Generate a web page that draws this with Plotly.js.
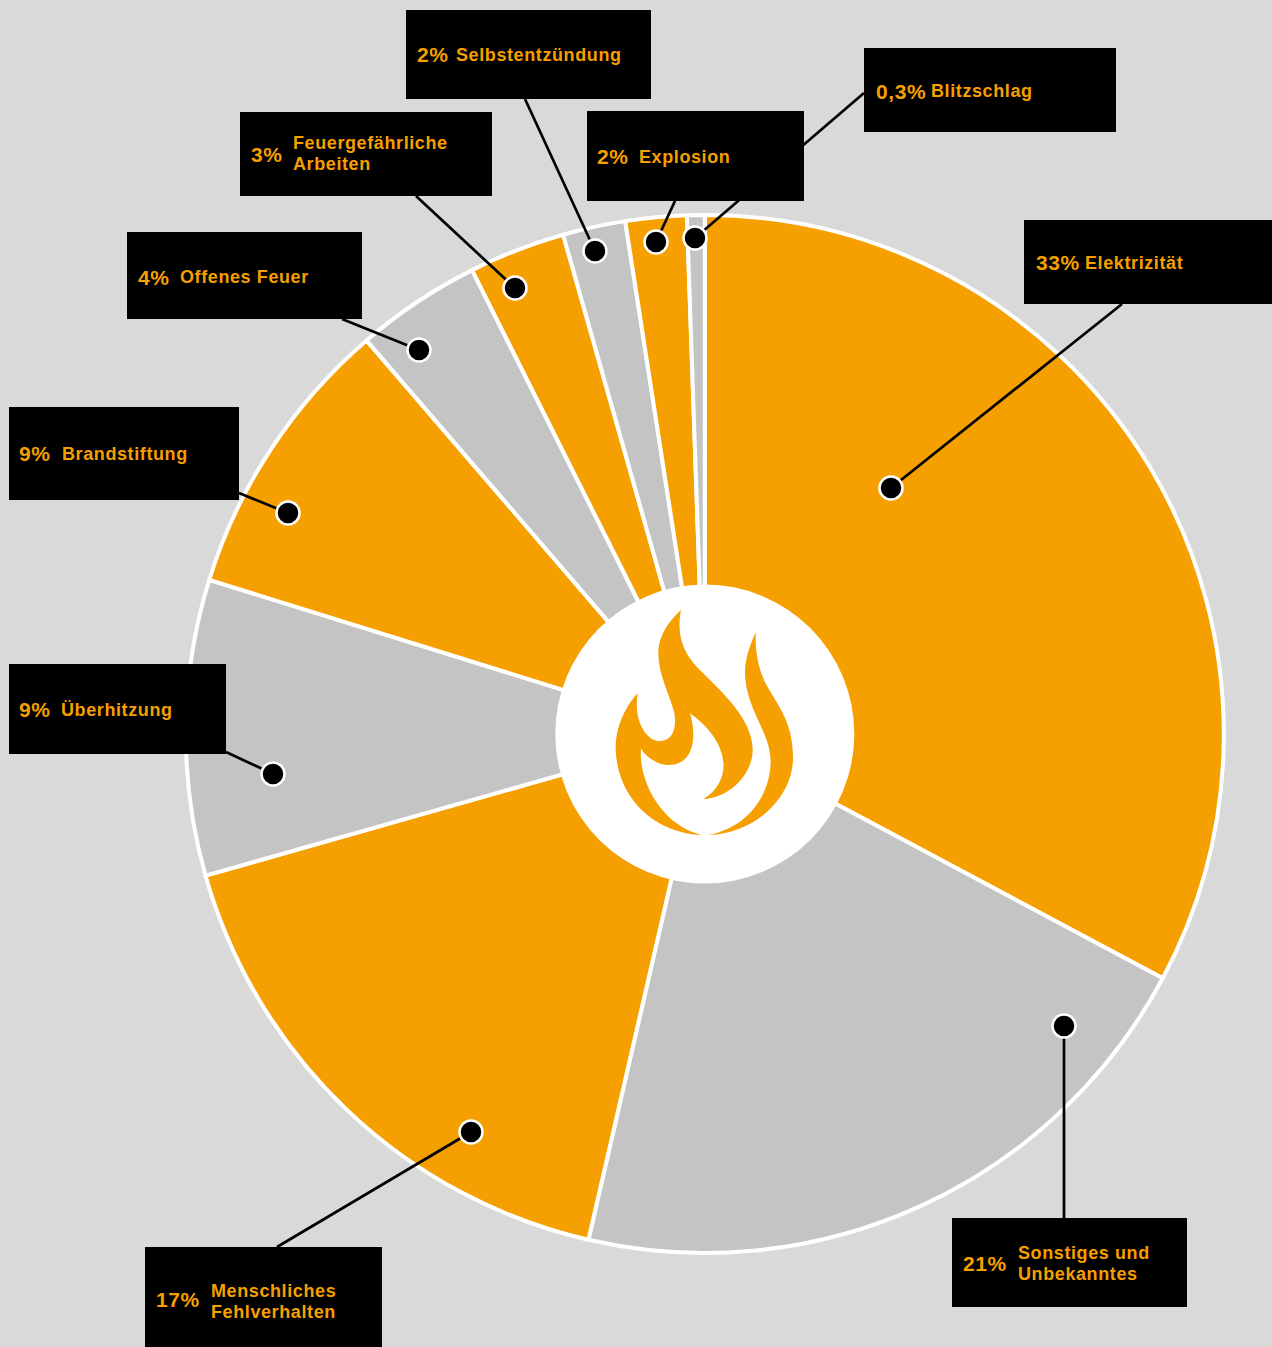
<!DOCTYPE html>
<html><head><meta charset="utf-8">
<script src="https://cdn.plot.ly/plotly-3.0.1.min.js"></script>
<style>html,body{margin:0;padding:0;background:#d9d9d9;overflow:hidden}
.annotation text{letter-spacing:.6px}</style></head>
<body><div id="chart" style="width:1272px;height:1347px"></div>
<script>
// Reading values
var categories = ["Elektrizität","Sonstiges und<br>Unbekanntes","Menschliches<br>Fehlverhalten","Überhitzung","Brandstiftung","Offenes Feuer","Feuergefährliche<br>Arbeiten","Selbstentzündung","Explosion","Blitzschlag"];
var percentLabels = ["33%","21%","17%","9%","9%","4%","3%","2%","2%","0,3%"];
var values = [32.8,20.8,17,9.2,8.9,3.9,3,1.95,1.9,0.55];
var sliceColors = ["#f69f00","#c4c4c4","#f69f00","#c4c4c4","#f69f00","#c4c4c4","#f69f00","#c4c4c4","#f69f00","#c4c4c4"];

// Callout layout (pixels)
var boxes = [[1024,220,1272,304],[952,1218,1187,1307],[145,1247,382,1347],[9,664,226,754],[9,407,239,500],[127,232,362,319],[240,112,492,196],[406,10,651,99],[587,111,804,201],[864,48,1116,132]];
var dots = [[891,488],[1064,1026],[471,1132],[273,774],[288,513],[419,350],[515,288],[595,251],[656,242],[695,238]];
var anchors = [[1122,304],[1064,1218],[277,1247],[226,752],[239,493],[342,319],[416,196],[525,99],[675,201],[864,93]];
var pctX = [1036,963,156,19,19,138,251,417,597,876];
var labelX = [1085,1018,211,61,62,180,293,456,639,931];
var textY = [263,1263.5,1301.5,710,454,277,154,55,157,91];
var pctY = [263,1263,1299,709.5,453.5,277,154,55,157,91];

var W=1272,H=1347,CX=704.8,CY=734,R=519,HOLE=149.5;
function px(x){return x/W} function py(y){return 1-y/H}
var ORANGE="#f69f00";
var shapes=[],ann=[];
function font(s){return {family:"Liberation Sans, Arial, sans-serif",size:s,color:ORANGE}}
function txt(x,y,t,s){ann.push({xref:"paper",yref:"paper",x:px(x),y:py(y),xanchor:"left",yanchor:"middle",text:"<b>"+t+"</b>",showarrow:false,font:font(s),align:"left",borderpad:0,borderwidth:0})}

categories.forEach(function(c,i){
  shapes.push({type:"line",xref:"paper",yref:"paper",x0:px(anchors[i][0]),y0:py(anchors[i][1]),x1:px(dots[i][0]),y1:py(dots[i][1]),line:{color:"#000",width:2.7}});
});
boxes.forEach(function(b){
  shapes.push({type:"rect",xref:"paper",yref:"paper",x0:px(b[0]),y0:py(b[1]),x1:px(b[2]),y1:py(b[3]),fillcolor:"#000",line:{width:0}});
});
dots.forEach(function(d){
  var r=11.5;
  shapes.push({type:"circle",xref:"paper",yref:"paper",x0:px(d[0]-r),y0:py(d[1]-r),x1:px(d[0]+r),y1:py(d[1]+r),fillcolor:"#000",line:{color:"#fff",width:2.5}});
});
shapes.push({type:"circle",xref:"paper",yref:"paper",x0:px(CX-HOLE),y0:py(CY-HOLE),x1:px(CX+HOLE),y1:py(CY+HOLE),fillcolor:"#fff",line:{width:0}});

// Flame icon, traced in a 300-unit box placed at the hole's corner
function flame(pts){
  return pts.replace(/(-?[\d.]+),(-?[\d.]+)/g,function(m,a,b){
    return px(555+a/3).toFixed(5)+","+py(585+b/3).toFixed(5);
  });
}
var flameMain="M378,75 C360,170 400,220 440,260 C500,320 590,400 593,490 C595,570 520,640 445,642 C490,615 510,570 505,530 C497,460 440,410 405,385 C425,450 420,540 340,540 C305,540 272,515 258,490 C250,590 320,720 440,750 C300,745 185,640 182,490 C182,420 215,360 248,325 C235,400 270,468 315,468 C355,468 365,425 358,385 C345,330 310,270 310,205 C310,150 345,105 378,75 Z";
var flameRight="M602,142 C600,200 610,260 640,310 C675,370 715,420 714,520 C712,640 600,745 460,750 C570,730 645,640 647,530 C647,440 570,370 570,260 C570,215 590,170 602,142 Z";
shapes.push({type:"path",xref:"paper",yref:"paper",path:flame(flameMain),fillcolor:ORANGE,line:{width:0}});
shapes.push({type:"path",xref:"paper",yref:"paper",path:flame(flameRight),fillcolor:ORANGE,line:{width:0}});

categories.forEach(function(c,i){
  txt(pctX[i],pctY[i],percentLabels[i],21);
  var lines=c.split("<br>");
  lines.forEach(function(l,k){
    var y=lines.length>1?textY[i]-11+21.5*k:textY[i];
    txt(labelX[i],y,l,18);
  });
});

Plotly.newPlot("chart",[{
  type:"pie",
  labels:categories,
  values:values,
  sort:false,
  direction:"clockwise",
  rotation:0,
  hole:(HOLE-6)/R,
  textinfo:"none",
  hoverinfo:"skip",
  marker:{colors:sliceColors,line:{color:"#fff",width:4}},
  domain:{x:[(CX-R)/W,(CX+R)/W],y:[1-(CY+R)/H,1-(CY-R)/H]}
}],{
  width:W,height:H,
  margin:{l:0,r:0,t:0,b:0,pad:0},
  paper_bgcolor:"#d9d9d9",
  plot_bgcolor:"#d9d9d9",
  showlegend:false,
  shapes:shapes,
  annotations:ann
},{displayModeBar:false,staticPlot:true});
</script></body></html>
